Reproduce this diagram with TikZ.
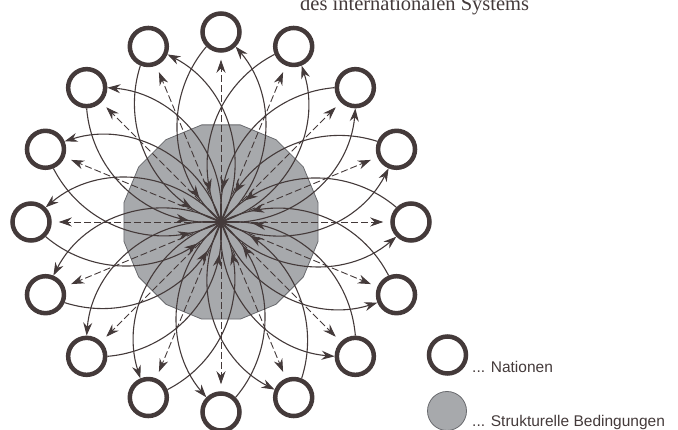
\documentclass[tikz,border=0pt]{standalone}
\usepackage{fontspec}
\setmainfont{Liberation Serif}
\setsansfont{Liberation Sans}
\usetikzlibrary{arrows.meta,decorations.markings}
\definecolor{ink}{RGB}{68,58,58}
\definecolor{struct}{RGB}{167,169,172}
\definecolor{structline}{RGB}{105,106,110}
\begin{document}
\begin{tikzpicture}[x=1pt,y=1pt,
  nation/.style={circle,draw=ink,line width=4.5pt,minimum size=37pt,inner sep=0pt},
  tip/.style={-{Stealth[length=13pt,width=9pt]}},
  radial/.style={draw=ink,line width=0.9pt,dash pattern=on 7pt off 3pt,tip,shorten >=7pt},
  outcurve/.style={draw=ink,line width=1.1pt,tip},
  incurve/.style={draw=ink,line width=1.1pt,postaction={decorate},
    decoration={markings,mark=at position -32pt with {\arrow{Stealth[length=13pt,width=9pt]}}}},
  polyst/.style={fill=struct,draw=structline,line width=0.8pt},
  legtext/.style={anchor=base west,inner sep=0pt,text=ink,font=\sffamily\fontsize{15.5}{18}\selectfont}
]
\useasboundingbox (0,0) rectangle (678,430);
\coordinate (c) at (221,208);
\begin{scope}[shift={(221,208)}]
  \draw[polyst] (11.25:99) \foreach \k in {1,...,15}{ -- ({11.25+22.5*\k}:99)} -- cycle;
\end{scope}
\foreach \k in {0,...,15}{
  \path (c) ++({\k*22.5}:190) node[nation] (n\k) {};
}
\foreach \k in {0,...,15}{
  \draw[radial] (c) -- (n\k);
  \draw[outcurve] (c) to[bend right=45] (n\k);
  \draw[incurve] (n\k) to[bend right=45] (c);
}
\node[anchor=base west,inner sep=0pt,text=ink,font=\fontsize{20.5}{24}\selectfont] (title) at (300,419) {des internationalen Systems};
\node[nation] (legn) at (447.5,75) {};
\node[legtext] (legnt) at (472,57) {... Nationen};
\node[circle,fill=struct,draw=structline,line width=0.8pt,minimum size=39pt,inner sep=0pt] (legs) at (447,19) {};
\node[legtext] (legst) at (472,3) {... Strukturelle Bedingungen};
\end{tikzpicture}
\end{document}
